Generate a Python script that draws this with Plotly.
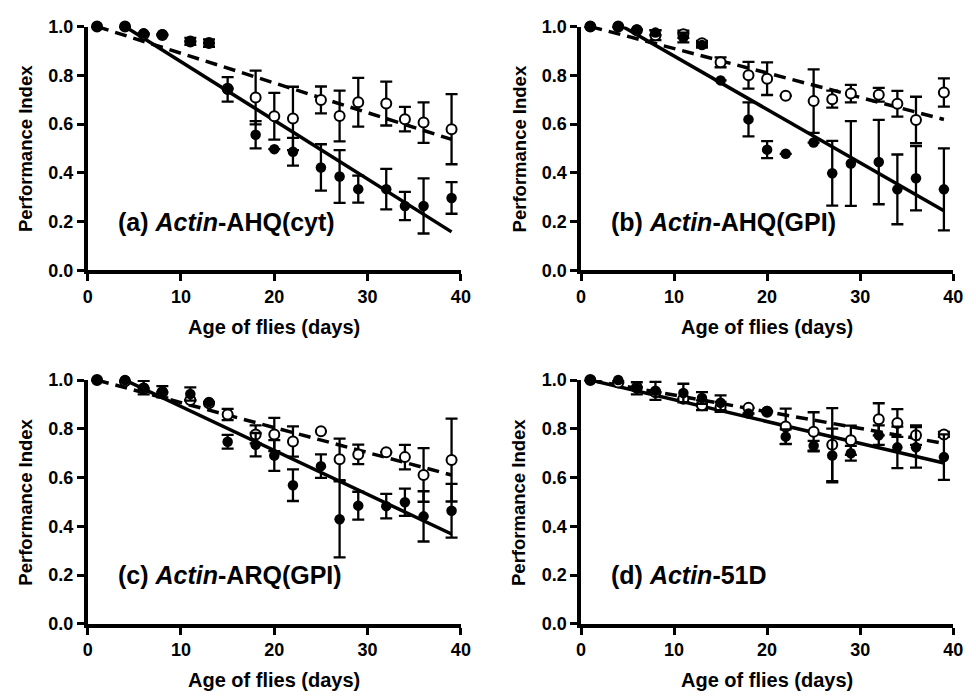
import plotly.graph_objects as go

days = [1, 4, 6, 8, 11, 13, 15, 18, 20, 22, 25, 27, 29, 32, 34, 36, 39]

panel_labels = ["(a) <i>Actin</i>-AHQ(cyt)", "(b) <i>Actin</i>-AHQ(GPI)",
                "(c) <i>Actin</i>-ARQ(GPI)", "(d) <i>Actin</i>-51D"]

a_filled = [1.0, 1.0, 0.972, 0.968, 0.939, 0.932, 0.742, 0.556, 0.497, 0.486, 0.422, 0.385, 0.333, 0.333, 0.264, 0.264, 0.297]
a_filled_err = [0, 0, 0, 0, 0.014, 0.015, 0.05, 0.056, 0, 0.057, 0.095, 0.108, 0.055, 0.083, 0.058, 0.113, 0.065]
a_open = [1.0, 1.0, 0.968, 0.965, 0.939, 0.932, 0.745, 0.709, 0.632, 0.623, 0.699, 0.633, 0.689, 0.684, 0.620, 0.606, 0.579]
a_open_err = [0, 0, 0, 0, 0, 0, 0, 0.11, 0.096, 0.13, 0.055, 0.104, 0.10, 0.09, 0.05, 0.083, 0.144]

b_filled = [1.0, 1.0, 0.988, 0.975, 0.955, 0.924, 0.779, 0.619, 0.495, 0.478, 0.524, 0.398, 0.438, 0.444, 0.332, 0.378, 0.332]
b_filled_err = [0, 0, 0, 0.01, 0.02, 0.01, 0, 0.07, 0.035, 0, 0, 0.133, 0.174, 0.173, 0.143, 0.132, 0.168]
b_open = [1.0, 1.0, 0.985, 0.964, 0.968, 0.931, 0.853, 0.80, 0.786, 0.716, 0.694, 0.702, 0.725, 0.72, 0.683, 0.617, 0.729]
b_open_err = [0, 0, 0, 0.02, 0.015, 0.01, 0.02, 0.055, 0.067, 0, 0.13, 0.035, 0.036, 0.028, 0.053, 0.095, 0.058]

c_filled = [1.0, 1.0, 0.969, 0.952, 0.943, 0.910, 0.747, 0.735, 0.691, 0.569, 0.647, 0.429, 0.485, 0.483, 0.499, 0.441, 0.464]
c_filled_err = [0, 0, 0.028, 0.023, 0.027, 0, 0.028, 0.048, 0.063, 0.065, 0.048, 0.156, 0.057, 0.05, 0.056, 0.103, 0.11]
c_open = [1.0, 0.995, 0.965, 0.95, 0.918, 0.905, 0.859, 0.777, 0.777, 0.748, 0.790, 0.675, 0.695, 0.704, 0.684, 0.611, 0.672]
c_open_err = [0, 0, 0, 0, 0, 0, 0.023, 0.037, 0.068, 0.062, 0, 0.085, 0.04, 0, 0.05, 0.11, 0.17]

d_filled = [1.0, 1.0, 0.966, 0.956, 0.947, 0.927, 0.907, 0.863, 0.873, 0.768, 0.731, 0.691, 0.70, 0.774, 0.724, 0.724, 0.684]
d_filled_err = [0, 0, 0.025, 0.037, 0.038, 0.024, 0.03, 0, 0, 0.03, 0.02, 0.11, 0.03, 0.04, 0.085, 0.083, 0.093]
d_open = [1.0, 0.99, 0.97, 0.95, 0.923, 0.897, 0.89, 0.886, 0.87, 0.81, 0.788, 0.735, 0.753, 0.839, 0.824, 0.774, 0.777]
d_open_err = [0, 0, 0, 0, 0, 0.02, 0.02, 0, 0, 0.073, 0.08, 0.15, 0.06, 0.066, 0.057, 0.04, 0.01]

# linear fits: (intercept, slope)
solid_fit = [(1.096, -0.02406), (1.098, -0.0219), (1.072, -0.01803), (1.009, -0.00895)]
dashed_fit = [(1.012, -0.01218), (1.010, -0.01003), (1.010, -0.01024), (1.007, -0.00684)]
fit_x = [1, 39]

x_ticks = [0, 10, 20, 30, 40]
y_ticks = [0.0, 0.2, 0.4, 0.6, 0.8, 1.0]
y_ticklabels = ["0.0", "0.2", "0.4", "0.6", "0.8", "1.0"]

panels = [(a_filled, a_filled_err, a_open, a_open_err),
          (b_filled, b_filled_err, b_open, b_open_err),
          (c_filled, c_filled_err, c_open, c_open_err),
          (d_filled, d_filled_err, d_open, d_open_err)]

W, H = 976, 698
x_domains = [[84 / W, 463 / W], [585 / W, 963 / W]]
y_domains = [[(H - 268) / H, (H - 17) / H], [(H - 632) / H, (H - 381) / H]]

FONT = "Arial, Liberation Sans, sans-serif"
fig = go.Figure()
layout = dict(width=W, height=H, margin=dict(l=0, r=0, t=0, b=0),
              paper_bgcolor="white", plot_bgcolor="white", showlegend=False,
              font=dict(family=FONT, color="black"))
annotations = []

for i, (filled, ferr, opn, oerr) in enumerate(panels):
    row, col = divmod(i, 2)
    xa = "x" if i == 0 else f"x{i+1}"
    ya = "y" if i == 0 else f"y{i+1}"
    b0, s0 = solid_fit[i]
    b1, s1 = dashed_fit[i]
    fig.add_trace(go.Scatter(x=fit_x, y=[b1 + s1 * x for x in fit_x], mode="lines",
                             line=dict(color="black", width=3.5, dash="12px,7px"),
                             xaxis=xa, yaxis=ya))
    fig.add_trace(go.Scatter(x=fit_x, y=[b0 + s0 * x for x in fit_x], mode="lines",
                             line=dict(color="black", width=3.5),
                             xaxis=xa, yaxis=ya))
    fig.add_trace(go.Scatter(x=days, y=opn, mode="markers", cliponaxis=False,
                             error_y=dict(type="data", array=oerr, color="black", thickness=2.3, width=6),
                             marker=dict(symbol="circle", size=10, color="white",
                                         line=dict(color="black", width=2)),
                             xaxis=xa, yaxis=ya))
    fig.add_trace(go.Scatter(x=days, y=filled, mode="markers", cliponaxis=False,
                             error_y=dict(type="data", array=ferr, color="black", thickness=2.3, width=6),
                             marker=dict(symbol="circle", size=10.5, color="black",
                                         line=dict(color="black", width=0)),
                             xaxis=xa, yaxis=ya))
    axis_common = dict(showgrid=False, zeroline=False, showline=True, linecolor="black",
                       linewidth=3.5, ticks="outside", ticklen=7, tickwidth=3,
                       tickcolor="black", tickfont=dict(family=FONT, size=18, color="black"))
    xkey = "xaxis" if i == 0 else f"xaxis{i+1}"
    ykey = "yaxis" if i == 0 else f"yaxis{i+1}"
    layout[xkey] = dict(domain=x_domains[col], range=[0, 40], tickvals=x_ticks,
                        ticktext=[f"<b>{t}</b>" for t in x_ticks], anchor=ya, **axis_common)
    layout[ykey] = dict(domain=y_domains[row], range=[0, 1], tickvals=y_ticks,
                        ticktext=[f"<b>{t}</b>" for t in y_ticklabels], anchor=xa, **axis_common)
    annotations.append(dict(x=3.0, y=0.2, xref=xa, yref=ya, xanchor="left", yanchor="middle",
                            text=f"<b>{panel_labels[i]}</b>", showarrow=False,
                            font=dict(family=FONT, size=25, color="black")))
    # axis titles
    xd = x_domains[col]
    yd = y_domains[row]
    annotations.append(dict(x=(xd[0] + xd[1]) / 2, y=yd[0] - 58 / H, xref="paper", yref="paper",
                            xanchor="center", yanchor="middle", showarrow=False,
                            text="<b>Age of flies (days)</b>",
                            font=dict(family=FONT, size=20, color="black")))
    annotations.append(dict(x=xd[0] - 63 / W, y=(yd[0] + yd[1]) / 2, xref="paper", yref="paper",
                            xanchor="center", yanchor="middle", showarrow=False, textangle=-90,
                            text="<b>Performance Index</b>",
                            font=dict(family=FONT, size=18.5, color="black")))

layout["annotations"] = annotations
fig.update_layout(**layout)
fig.write_html("out.html")
